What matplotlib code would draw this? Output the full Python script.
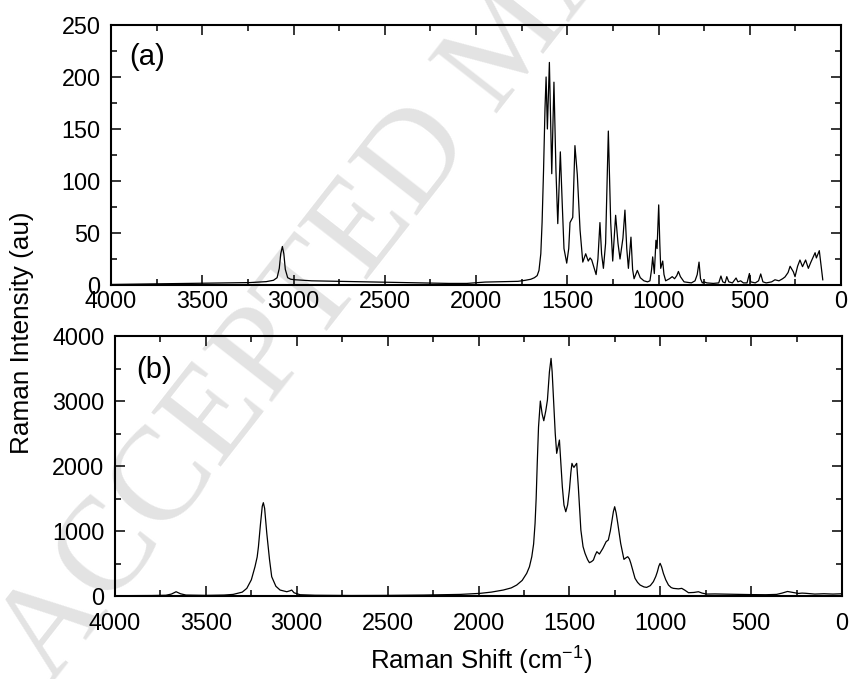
import matplotlib
matplotlib.use('Agg')
import matplotlib.pyplot as plt
from matplotlib.ticker import MultipleLocator

plt.rcParams['font.family'] = ['Liberation Sans', 'DejaVu Sans']
plt.rcParams['mathtext.fontset'] = 'custom'
plt.rcParams['mathtext.rm'] = 'Liberation Sans'
plt.rcParams['mathtext.it'] = 'Liberation Sans:italic'

# (a) calculated spectrum: Raman shift (cm-1) / intensity (au)
shift_a = [4000, 3800, 3600, 3400, 3240, 3150, 3110, 3090, 3078, 3070, 3061,
           3053, 3045, 3032, 3015, 2990, 2900, 2750, 2600, 2450, 2300, 2150,
           2050, 1950, 1850, 1770, 1730, 1700, 1680, 1665, 1655, 1645, 1638,
           1630, 1622, 1616, 1609, 1598, 1585, 1573, 1562, 1552, 1538, 1528,
           1518, 1503, 1492, 1485, 1470, 1458, 1445, 1430, 1415, 1399, 1385,
           1375, 1366, 1342, 1332, 1321, 1312, 1302, 1290, 1275, 1262, 1251,
           1235, 1222, 1211, 1195, 1184, 1174, 1165, 1151, 1142, 1134, 1116,
           1100, 1080, 1060, 1047, 1038, 1032, 1023, 1014, 1008, 999, 993,
           988, 977, 970, 961, 940, 925, 912, 900, 891, 880, 860, 840, 820,
           800, 788, 778, 770, 760, 751, 735, 700, 670, 658, 648, 635, 626,
           615, 595, 575, 565, 550, 535, 515, 502, 495, 470, 452, 440, 428,
           410, 380, 362, 340, 320, 307, 290, 279, 261, 252, 238, 225, 211,
           194, 179, 165, 142, 135, 119, 100]
inten_a = [0.5, 1.0, 1.5, 2.0, 2.3, 3.2, 4.5, 7, 16, 30, 37,
           30, 15, 7, 5.5, 5, 4, 3.5, 3, 2.5, 2, 1.5,
           1.5, 2.8, 3.2, 3.5, 4.5, 5.5, 7, 9, 14, 30, 60,
           110, 170, 200, 150, 214, 107, 195, 110, 59, 128, 80,
           35, 21, 35, 60, 65, 134, 106, 53, 22, 30, 23,
           26, 24, 10, 25, 60, 30, 16, 40, 148, 60, 23,
           67, 40, 25, 45, 72, 35, 16, 46, 15, 6, 14,
           7, 4, 3, 4, 15, 27, 11, 43, 35, 77, 40,
           16, 23, 10, 4, 6, 8, 6, 9, 13, 8, 3, 2.5, 2,
           4, 10, 22, 6, 2, 3, 2, 1.5, 2, 8.6, 3, 2, 8,
           3, 2, 6.7, 3, 4, 2, 2, 11, 3, 2, 4, 10.6, 3,
           2, 3, 5, 4, 6, 7.7, 12, 18, 12.6, 8, 18, 24, 17.6,
           24, 16, 22, 31, 26, 33, 5]

# (b) measured spectrum
shift_b = [4000, 3800, 3720, 3690, 3664, 3640, 3610, 3500, 3400, 3350, 3300,
           3275, 3250, 3230, 3218, 3211, 3200, 3190, 3184, 3177, 3165, 3150,
           3138, 3115, 3092, 3055, 3038, 3028, 3015, 2982, 2900, 2700, 2500,
           2300, 2100, 1992, 1930, 1864, 1820, 1790, 1760, 1735, 1720, 1707,
           1697, 1689, 1683, 1677, 1670, 1660, 1650, 1641, 1630, 1621, 1610,
           1601, 1595, 1588, 1578, 1570, 1562, 1555, 1547, 1539, 1530, 1520,
           1510, 1500, 1492, 1486, 1480, 1475, 1468, 1460, 1451, 1437, 1425,
           1414, 1400, 1390, 1378, 1368, 1358, 1349, 1335, 1316, 1298, 1286,
           1275, 1267, 1258, 1251, 1243, 1234, 1218, 1200, 1188, 1179, 1170,
           1162, 1150, 1139, 1125, 1111, 1090, 1075, 1055, 1038, 1025, 1016,
           1008, 1001, 993, 983, 970, 955, 940, 928, 900, 882, 865, 845, 815,
           790, 770, 745, 700, 650, 600, 560, 500, 420, 360, 330, 300, 270,
           240, 220, 200, 150, 100, 50, 0]
inten_b = [5, 8, 12, 30, 66, 35, 15, 10, 15, 25, 60,
           118, 250, 451, 600, 759, 1100, 1380, 1436, 1350, 964, 560,
           297, 150, 92, 66, 80, 92, 50, 20, 12, 8, 10,
           15, 25, 41, 60, 92, 125, 169, 240, 349, 450, 605,
           800, 1118, 1500, 2041, 2600, 3000, 2800, 2697, 2850, 3015, 3450,
           3656, 3450, 3066, 2500, 2195, 2300, 2400, 2050, 1682, 1400, 1297,
           1400, 1631, 1900, 2041, 2000, 1979, 2010, 2041, 1682, 1015, 760,
           656, 560, 513, 530, 554, 630, 682, 646, 733, 836, 862,
           1000, 1144, 1300, 1374, 1280, 1118, 810, 564, 590, 605, 570,
           503, 380, 272, 210, 169, 140, 133, 160, 221, 300, 374,
           460, 503, 450, 349, 250, 169, 130, 118, 110, 118, 90, 51, 55,
           66, 45, 30, 32, 30, 28, 25, 22, 20, 25, 45, 70, 55,
           40, 45, 42, 30, 35, 30, 35]

fig = plt.figure(figsize=(8.54, 6.79), dpi=100)

# faint watermark behind both panels
fig.text(0.0585, -0.009, 'ACCEPTED MANUSCRIPT', family='Liberation Serif',
         fontsize=96, color='#e3e3e3', rotation=52, rotation_mode='anchor',
         ha='left', va='baseline', zorder=-1)

ax_a = fig.add_axes([0.130, 0.5803, 0.8548, 0.3829])
ax_b = fig.add_axes([0.1347, 0.1222, 0.8513, 0.3829])

ax_a.plot(shift_a, inten_a, color='black', lw=0.9)
ax_b.plot(shift_b, inten_b, color='black', lw=0.9)

ax_a.set_ylim(0, 250)
ax_a.yaxis.set_major_locator(MultipleLocator(50))
ax_a.yaxis.set_minor_locator(MultipleLocator(25))
ax_b.set_ylim(0, 4000)
ax_b.yaxis.set_major_locator(MultipleLocator(1000))
ax_b.yaxis.set_minor_locator(MultipleLocator(500))

for ax in (ax_a, ax_b):
    ax.patch.set_alpha(0)
    ax.set_xlim(4000, 0)
    ax.xaxis.set_major_locator(MultipleLocator(500))
    ax.xaxis.set_minor_locator(MultipleLocator(250))
    for sp in ax.spines.values():
        sp.set_linewidth(1.5)
    ax.tick_params(which='both', direction='in', top=True, right=True,
                   width=1.1, labelsize=16.8)
    ax.tick_params(which='major', length=7.5)
    ax.tick_params(which='minor', length=4.5)
    ax.tick_params(axis='y', pad=7.5)
ax_a.tick_params(axis='x', pad=3.5)
ax_b.tick_params(axis='x', pad=11.5)

ax_a.text(0.049, 0.877, '(a)', transform=ax_a.transAxes, fontsize=21,
          ha='center', va='center')
ax_b.text(0.054, 0.869, '(b)', transform=ax_b.transAxes, fontsize=21,
          ha='center', va='center')

fig.text(0.026, 0.5096, 'Raman Intensity (au)', rotation=90, fontsize=18.8,
         ha='center', va='center')
fig.text(0.5635, 0.014, r'Raman Shift (cm$^{-1}$)', fontsize=18.5,
         ha='center', va='baseline')

fig.savefig('out.png', dpi=100)
